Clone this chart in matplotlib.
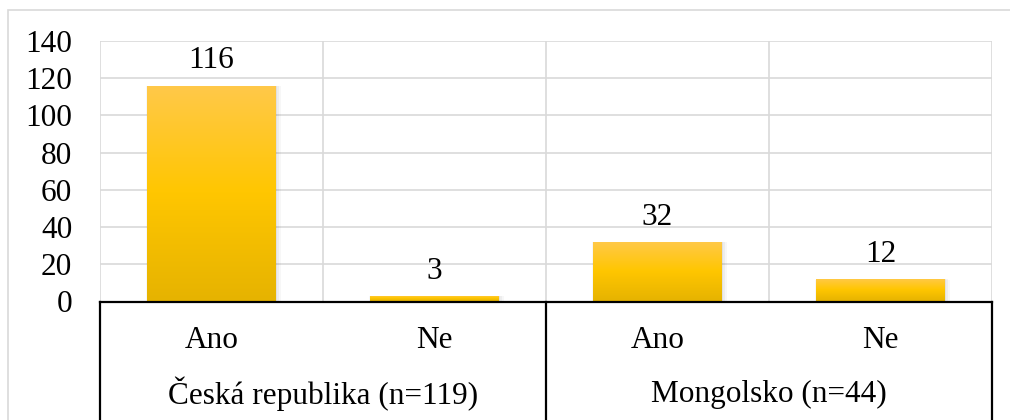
import numpy as np
import matplotlib
matplotlib.use("Agg")
import matplotlib.pyplot as plt
from matplotlib.colors import LinearSegmentedColormap
from matplotlib.patches import Rectangle
import matplotlib.transforms as mtransforms

groups = ["Česká republika (n=119)", "Mongolsko (n=44)"]
answers = ["Ano", "Ne", "Ano", "Ne"]
values = [116, 3, 32, 12]
group_sizes = [2, 2]
yticks = [0, 20, 40, 60, 80, 100, 120, 140]

plt.rcParams['font.family'] = ['Liberation Serif', 'DejaVu Serif']
FS = 22.5

W, H = 1010, 420
fig = plt.figure(figsize=(W / 100, H / 100), dpi=100)
fig.patch.set_facecolor("white")

# outer chart border
fig.add_artist(Rectangle((8 / W, -0.1), 1.2, (H - 10) / H + 0.1, transform=fig.transFigure,
                         fill=False, edgecolor="#D9D9D9", lw=1.2))

left, right, top, bottom = 100, 992, 41, 301.5
ax = fig.add_axes([left / W, (H - bottom) / H, (right - left) / W, (bottom - top) / H])
n = len(values)
x = np.arange(n)
ax.set_xlim(-0.5, n - 0.5)
ax.set_ylim(0, 140)
for s in ax.spines.values():
    s.set_visible(False)
ax.set_yticks(yticks)
ax.set_yticklabels([str(t) for t in yticks], fontsize=FS)
ax.tick_params(axis="y", length=0, pad=20)
ax.set_xticks([])

# gridlines
for t in yticks[1:]:
    ax.axhline(t, color="#D9D9D9", lw=1.2, zorder=0)
for b in np.arange(-0.5, n, 1.0):
    ax.axvline(b, color="#D9D9D9", lw=1.2, zorder=0)

cmap = LinearSegmentedColormap.from_list("gold", [(0, "#E6B300"), (0.5, "#FFC600"), (1.0, "#FFC94A")])
grad = np.linspace(0, 1, 256).reshape(-1, 1)
bw = 0.575
bars = ax.bar(x, values, width=bw, color="none", edgecolor="none", zorder=3)
for bar, v in zip(bars, values):
    x0, w, h = bar.get_x(), bar.get_width(), bar.get_height()
    # soft shadow
    for k, a in enumerate([0.05, 0.04, 0.03]):
        dx = 0.006 * (k + 1)
        ax.add_patch(Rectangle((x0 - dx * 0.3, -1), w + dx * 1.6, h + 1 - 0.3 * (k + 1) * 0.2,
                               facecolor="black", alpha=a, edgecolor="none", zorder=2))
    im = ax.imshow(grad, cmap=cmap, origin="lower", aspect="auto",
                   extent=(x0, x0 + w, 0, h), zorder=3)
    im.set_clip_path(bar)
    ax.annotate(str(v), (bar.get_x() + w / 2, h), xytext=(0, 12.5), textcoords="offset points",
                ha="center", va="baseline", fontsize=FS)

ax.set_xlim(-0.5, n - 0.5)
ax.set_ylim(0, 140)

# axis line
ax.axhline(0, color="black", lw=1.6, zorder=5, clip_on=False)

trans = mtransforms.blended_transform_factory(ax.transData, ax.transAxes)
ax_h = bottom - top
y_ans = -(340 - bottom) / ax_h
y_grp = -(394 - bottom) / ax_h
y_end = -(H + 5 - bottom) / ax_h
for xi, a in zip(x, answers):
    ax.text(xi, y_ans, a, transform=trans, ha="center", va="center", fontsize=FS)

start = 0
bounds = [-0.5]
for g, sz in zip(groups, group_sizes):
    c = start + (sz - 1) / 2
    ax.text(c, y_grp, g, transform=trans, ha="center", va="center", fontsize=FS)
    start += sz
    bounds.append(start - 0.5)
for b in bounds:
    ax.plot([b, b], [0, y_end], transform=trans, color="black", lw=1.6, clip_on=False, zorder=5)

fig.savefig("out.png", dpi=100, facecolor="white")
